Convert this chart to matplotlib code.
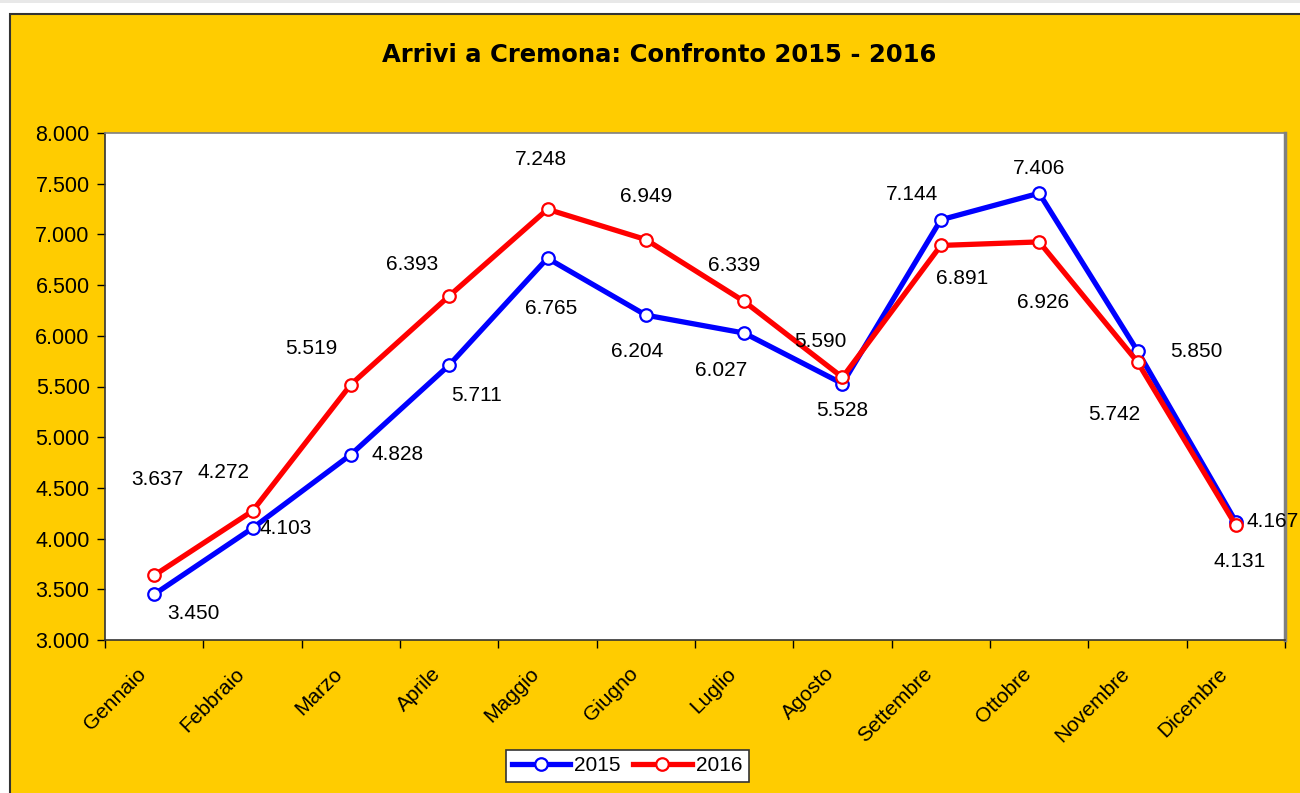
import matplotlib
matplotlib.use("Agg")
import matplotlib.pyplot as plt
from matplotlib.patches import Rectangle
from matplotlib.ticker import FuncFormatter, MultipleLocator

plt.rcParams['font.family'] = ['Liberation Sans', 'DejaVu Sans']

mesi = ['Gennaio', 'Febbraio', 'Marzo', 'Aprile', 'Maggio', 'Giugno',
        'Luglio', 'Agosto', 'Settembre', 'Ottobre', 'Novembre', 'Dicembre']
arrivi_2015 = [3450, 4103, 4828, 5711, 6765, 6204, 6027, 5528, 7144, 7406, 5850, 4167]
arrivi_2016 = [3637, 4272, 5519, 6393, 7248, 6949, 6339, 5590, 6891, 6926, 5742, 4131]

# label offsets in pixels (x right, y up)
off_2015 = [(39, -19), (33, 0), (47, 0), (27, -30), (4, -50), (-9, -36),
            (-23, -37), (0, -27), (-29, 25), (0, 25), (59, 0), (37, 0)]
off_2016 = [(3, 96), (-29, 39), (-40, 36), (-37, 31), (-7, 50), (0, 43),
            (-10, 36), (-22, 36), (21, -33), (4, -61), (-23, -53), (4, -36)]

giallo = '#FFCC00'

fig = plt.figure(figsize=(13, 7.93), dpi=100)
fig.patch.set_facecolor('white')
# top grey strip and yellow chart area
fig.patches.append(Rectangle((0, 1 - 3 / 793), 1, 3 / 793, transform=fig.transFigure,
                             facecolor='#e8e8e8', edgecolor='none', zorder=-2))
fig.patches.append(Rectangle((10 / 1300, -0.05), 1.1, 1 - 14 / 793 + 0.05,
                             transform=fig.transFigure, facecolor=giallo,
                             edgecolor='#333333', linewidth=1.5, zorder=-2))

ax = fig.add_axes([105 / 1300, 1 - 640 / 793, 1180 / 1300, 507 / 793])
ax.set_facecolor('white')

x = list(range(len(mesi)))
ax.plot(x, arrivi_2015, color='#0000FF', linewidth=3.8, marker='o', markersize=9,
        markerfacecolor='white', markeredgecolor='#0000FF', markeredgewidth=1.6,
        label='2015', zorder=3)
ax.plot(x, arrivi_2016, color='#FF0000', linewidth=3.8, marker='o', markersize=9,
        markerfacecolor='white', markeredgecolor='#FF0000', markeredgewidth=1.6,
        label='2016', zorder=4)

for serie, offs in ((arrivi_2015, off_2015), (arrivi_2016, off_2016)):
    for i, v in enumerate(serie):
        ax.annotate(f'{v:,}'.replace(',', '.'), (i, v), xytext=offs[i],
                    textcoords='offset pixels', ha='center', va='center',
                    fontsize=15, annotation_clip=False, zorder=5)

ax.set_xlim(-0.5, 11.5)
ax.set_ylim(3000, 8000)
ax.yaxis.set_major_locator(MultipleLocator(500))
ax.yaxis.set_major_formatter(FuncFormatter(lambda v, p: f'{int(v):,}'.replace(',', '.')))
ax.set_xticks([i + 0.5 for i in range(-1, 12)])
ax.set_xticklabels([])
ax.tick_params(axis='x', length=6, width=1, direction='out')
ax.tick_params(axis='y', length=6, width=1, direction='out', labelsize=15.5, pad=5)

# month names, rotated like the original
for i, m in enumerate(mesi):
    ax.annotate(m, (i, 0), xycoords=ax.get_xaxis_transform(), xytext=(-18, -24),
                textcoords='offset pixels', rotation=45, ha='right', va='top',
                rotation_mode='anchor', fontsize=15, annotation_clip=False)

ax.spines['left'].set_color('#333333')
ax.spines['bottom'].set_color('#333333')
ax.spines['top'].set_color('#808080')
ax.spines['right'].set_color('#808080')
ax.spines['right'].set_linewidth(2.5)
for s in ('left', 'bottom', 'top'):
    ax.spines[s].set_linewidth(1.2)

fig.text(659 / 1300, 1 - 55 / 793, 'Arrivi a Cremona: Confronto 2015 - 2016',
         ha='center', va='center', fontsize=17.5, fontweight='bold',
         family='DejaVu Sans')

leg = fig.legend(loc='upper center', bbox_to_anchor=(627 / 1300, 1 - 750 / 793),
                 ncol=2, fontsize=15, frameon=True, fancybox=False, framealpha=1,
                 handlelength=2.8, handletextpad=0.2, columnspacing=0.6,
                 borderpad=0.3, borderaxespad=0)
leg.get_frame().set_edgecolor('#333333')
leg.get_frame().set_linewidth(1.2)

fig.savefig('out.png', dpi=100, facecolor=fig.get_facecolor())
